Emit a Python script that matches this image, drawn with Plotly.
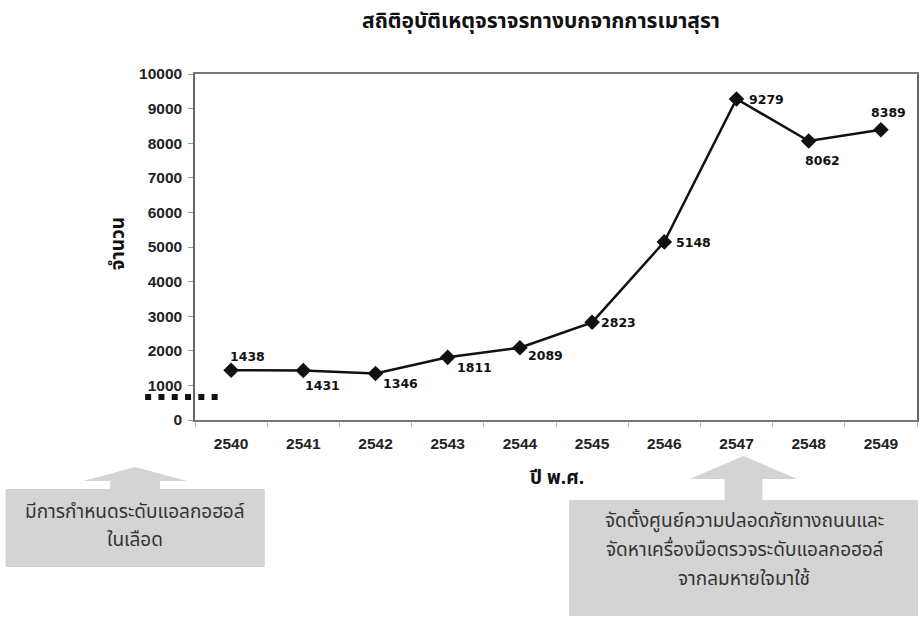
import plotly.graph_objects as go

# Road accident statistics caused by drunk driving, by Buddhist-era year
years = ["2540", "2541", "2542", "2543", "2544", "2545", "2546", "2547", "2548", "2549"]
accidents = [1438, 1431, 1346, 1811, 2089, 2823, 5148, 9279, 8062, 8389]

title_text = "สถิติอุบัติเหตุจราจรทางบกจากการเมาสุรา"
x_title = "ปี พ.ศ."
y_title = "จำนวน"
y_ticks = [0, 1000, 2000, 3000, 4000, 5000, 6000, 7000, 8000, 9000, 10000]

note_left = ["มีการกำหนดระดับแอลกอฮอล์", "ในเลือด"]
note_right = ["จัดตั้งศูนย์ความปลอดภัยทางถนนและ",
              "จัดหาเครื่องมือตรวจระดับแอลกอฮอล์",
              "จากลมหายใจมาใช้"]

# label offsets (px) relative to each point: (right, down)
label_offsets = [(16, -14), (19, 15), (25, 10), (27, 10), (26, 8),
                 (26, 0), (29, 1), (30, 1), (14, 19), (8, -17)]

W, H = 920, 619
L, R, T, B = 195, 1, 74, 199
PW, PH = W - L - R, H - T - B


def px(x):
    return (x - L) / PW


def py(y):
    return (H - B - y) / PH


THAI = "Noto Sans Thai, Loma, Garuda, Tlwg Typist, Norasi, Kinnari, sans-serif"
GRAY = "#d4d4d4"

fig = go.Figure()
fig.add_trace(go.Scatter(
    x=years, y=accidents, mode="lines+markers",
    line=dict(color="#111111", width=2.5),
    marker=dict(symbol="diamond", size=12, color="#111111"),
    hoverinfo="x+y", showlegend=False,
))

annotations = []
# value labels, placed by category index on the x axis
for i, (v, (dx, dy)) in enumerate(zip(accidents, label_offsets)):
    annotations.append(dict(
        x=i, y=v, xref="x", yref="y", text=str(v), showarrow=False,
        xanchor="center", yanchor="middle", xshift=dx, yshift=-dy,
        font=dict(family="DejaVu Sans", size=12.5, color="#111111", weight="bold"),
    ))


def label(x, y, text, size, color="#111", bold=False, angle=0):
    f = dict(family=THAI, size=size, color=color)
    if bold:
        f["weight"] = "bold"
    return dict(x=px(x), y=py(y), xref="paper", yref="paper", text=text, textangle=angle,
                xanchor="center", yanchor="middle", showarrow=False, font=f)


# chart title and axis titles
annotations.append(label(542, 21, title_text, 21, bold=True))
annotations.append(label(557, 478, x_title, 19, bold=True))
annotations.append(label(118, 244, y_title, 19, bold=True, angle=-90))

# note boxes
for i, line in enumerate(note_left):
    annotations.append(label(135, 512 + 28 * i, line, 19, color="#333"))
for i, line in enumerate(note_right):
    annotations.append(label(746, 521 + 29 * i, line, 19, color="#333"))


def arrow_path(cx, apex, base, half_head, half_stem, stem_bottom):
    pts = [(cx - half_stem, stem_bottom), (cx - half_stem, base), (cx - half_head, base),
           (cx, apex), (cx + half_head, base), (cx + half_stem, base), (cx + half_stem, stem_bottom)]
    return "M " + " L ".join(f"{px(a):.5f},{py(b):.5f}" for a, b in pts) + " Z"


shapes = [
    dict(type="rect", xref="paper", yref="paper", x0=px(5), x1=px(265), y0=py(567), y1=py(489),
         fillcolor=GRAY, line=dict(width=0), layer="below"),
    dict(type="path", xref="paper", yref="paper", path=arrow_path(135, 467, 481, 52, 25, 489),
         fillcolor=GRAY, line=dict(width=0), layer="below"),
    dict(type="rect", xref="paper", yref="paper", x0=px(570), x1=px(920), y0=py(616), y1=py(500),
         fillcolor=GRAY, line=dict(width=0), layer="below"),
    dict(type="path", xref="paper", yref="paper", path=arrow_path(745, 456, 479, 54, 19, 500),
         fillcolor=GRAY, line=dict(width=0), layer="below"),
    # dotted marker near the 1000 level
    dict(type="line", xref="paper", yref="paper", x0=px(145), x1=px(218), y0=py(397), y1=py(397),
         line=dict(color="#111111", width=6, dash="6px,7.3px")),
]

fig.update_layout(
    width=W, height=H,
    margin=dict(l=L, r=R, t=T, b=B, pad=0),
    paper_bgcolor="white", plot_bgcolor="white",
    annotations=annotations, shapes=shapes,
    xaxis=dict(type="category", categoryorder="array", categoryarray=years,
               range=[-0.5, len(years) - 0.5], autorange=False, tickangle=0,
               showline=True, linecolor="#777", linewidth=1.5, mirror=True,
               ticks="outside", tickson="boundaries", ticklen=5, tickcolor="#bbb",
               ticklabelstandoff=9,
               showgrid=False, zeroline=False,
               tickfont=dict(family="Liberation Sans", size=15.5, color="#222", weight="bold")),
    yaxis=dict(range=[0, 10000], autorange=False,
               tickvals=y_ticks, ticktext=[str(t) for t in y_ticks],
               showline=True, linecolor="#666", linewidth=1.5, mirror=True,
               ticks="outside", ticklen=5, tickcolor="#999",
               ticklabelstandoff=3,
               showgrid=False, zeroline=False,
               tickfont=dict(family="Liberation Sans", size=15.5, color="#222", weight="bold")),
)

fig.write_html("out.html")
